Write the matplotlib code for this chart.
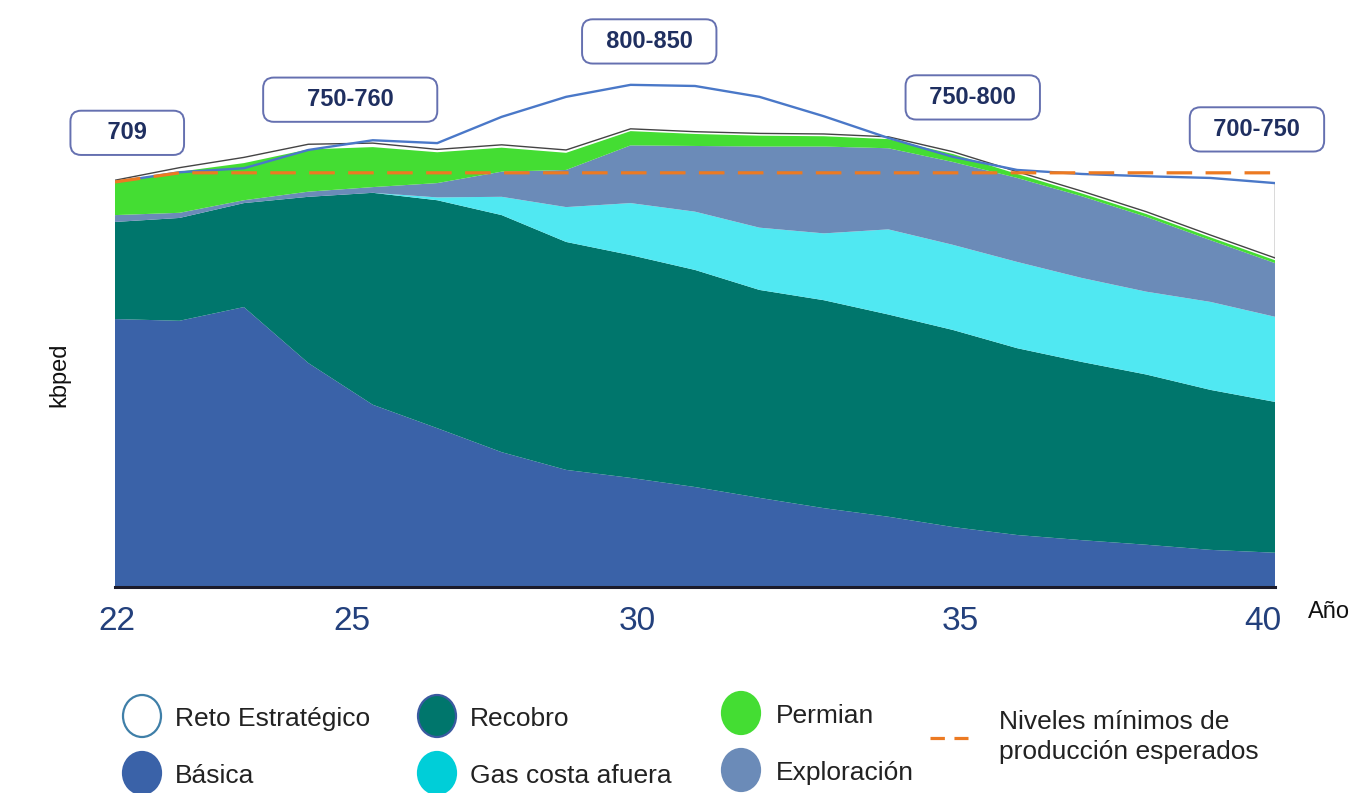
import numpy as np
import matplotlib
matplotlib.use("Agg")
import matplotlib.pyplot as plt
from matplotlib.patches import Ellipse
from matplotlib.lines import Line2D

plt.rcParams['font.family'] = ['Liberation Sans', 'DejaVu Sans']

# production by source, kbped
years = [22, 23, 24, 25, 26, 27, 28, 29, 30, 31, 32, 33, 34, 35, 36, 37, 38, 39, 40]
basica = [469, 466, 490, 392, 319, 278, 236, 205, 191, 175, 156, 138, 123, 105, 91, 82, 74, 65, 60]
recobro = [170, 180, 182, 291, 371, 399, 415, 399, 390, 380, 364, 364, 354, 345, 327, 312, 298, 280, 264]
gas = [0, 0, 0, 0, 0, 5, 32, 61, 91, 102, 109, 117, 149, 149, 151, 147, 145, 154, 149]
exploracion = [12, 9, 5, 9, 10, 25, 44, 65, 101, 115, 142, 152, 142, 145, 147, 143, 131, 108, 94]
permian = [56, 72, 65, 74, 70, 54, 42, 30, 25, 21, 19, 18, 16, 14, 7, 5, 5, 5, 5]
reto_gap = [5, 7, 10, 9, 7, 5, 5, 5, 4, 4, 4, 4, 4, 4, 4, 4, 4, 4, 4]
reto = [709, 726, 733, 765, 782, 777, 823, 858, 879, 877, 858, 824, 786, 753, 730, 723, 719, 716, 707]
niveles = [709, 725, 725, 725, 725, 725, 725, 725, 725, 725, 725, 725, 725, 725, 725, 725, 725, 725, 725]

# tick labels sit where the original put them
tick_pos = [22.03, 25.68, 30.1, 35.11, 39.81]
tick_labels = ["22", "25", "30", "35", "40"]

# range boxes
box_text = ["709", "750-760", "800-850", "750-800", "700-750"]
box_x = [22.19, 25.65, 30.29, 35.31, 39.72]
box_y = [795, 853, 955, 857, 801]
box_pad = [4, 5, 2, 2, 2]

colours = {
    "basica": "#3a62a8",
    "recobro": "#00766c",
    "gas": "#50e8f2",
    "exploracion": "#6b8bb8",
    "permian": "#44dd33",
    "reto": "#4a78c8",
    "niveles": "#ec7a22",
    "navy": "#1f2f60",
}

W, H = 1368, 793
fig = plt.figure(figsize=(W / 100, H / 100), dpi=100)
ax = fig.add_axes([115 / W, (H - 587) / H, 1160 / W, 577 / H])

layer_cols = [colours["basica"], colours["recobro"], colours["gas"],
              colours["exploracion"], colours["permian"]]
ax.stackplot(years, basica, recobro, gas, exploracion, permian,
             colors=layer_cols, linewidth=0, zorder=1)

stack_top = np.sum([basica, recobro, gas, exploracion, permian], axis=0)
reto_top = stack_top + np.array(reto_gap)
ax.plot(years, reto_top, color="#444444", lw=1.0, zorder=2)
ax.vlines(years[-1], reto_top[-1], reto[-1], color="#444444", lw=1.0, zorder=2)
ax.plot(years, reto, color=colours["reto"], lw=1.7, zorder=3)
ax.plot(years, niveles, color=colours["niveles"], lw=2.3, dashes=(8, 4.2), zorder=4)

for t, x, y, p in zip(box_text, box_x, box_y, box_pad):
    pad = " " * p
    ax.text(x, y, pad + t + pad, ha="center", va="center", fontsize=17,
            fontweight="bold", color=colours["navy"], clip_on=False, zorder=5,
            bbox=dict(boxstyle="round,pad=0.45,rounding_size=0.45",
                      fc="white", ec="#6570b0", lw=1.4))

ax.set_xlim(22, 40)
ax.set_ylim(0, 1010)
for s in ["top", "left", "right"]:
    ax.spines[s].set_visible(False)
ax.spines["bottom"].set_linewidth(2.2)
ax.spines["bottom"].set_color("#1b1b2b")
ax.spines["bottom"].set_zorder(6)
ax.set_yticks([])
ax.set_xticks(tick_pos, tick_labels)
ax.tick_params(axis="x", length=0, pad=14, labelsize=24, labelcolor="#23407c")

fig.text(1308 / W, 1 - 612 / H, "Año", fontsize=17, color="#111111",
         ha="left", va="center")
fig.text(59 / W, 1 - 375 / H, "kbped", fontsize=17, color="#111111",
         rotation=90, ha="center", va="center")

# legend, drawn by hand to keep the original spacing
leg_labels = ["Reto Estratégico", "Básica", "Recobro", "Gas costa afuera",
              "Permian", "Exploración"]
leg_face = ["white", colours["basica"], colours["recobro"], "#00ced8",
            colours["permian"], colours["exploracion"]]
leg_edge = ["#3f7fa8", colours["basica"], "#3a5aa0", "#00ced8",
            colours["permian"], colours["exploracion"]]
leg_cx = [142, 142, 437, 437, 741, 741]
leg_cy = [716, 773, 716, 773, 713, 770]
leg_tx = [175, 175, 470, 470, 776, 776]

for lab, fc, ec, cx, cy, tx in zip(leg_labels, leg_face, leg_edge, leg_cx, leg_cy, leg_tx):
    e = Ellipse((cx / W, 1 - cy / H), 38 / W, 42 / H, transform=fig.transFigure,
                fc=fc, ec=ec, lw=1.6)
    fig.add_artist(e)
    fig.text(tx / W, 1 - (cy + 3) / H, lab, fontsize=19, color="#222222",
             ha="left", va="center")

fig.add_artist(Line2D([930 / W, 968 / W], [1 - 738 / H, 1 - 738 / H],
                      transform=fig.transFigure, color=colours["niveles"],
                      lw=2.3, dashes=(4.5, 3)))
fig.text(999 / W, 1 - 737 / H, "Niveles mínimos de\nproducción esperados",
         fontsize=19, color="#222222", ha="left", va="center", linespacing=1.35)

fig.savefig("out.png", dpi=100)
